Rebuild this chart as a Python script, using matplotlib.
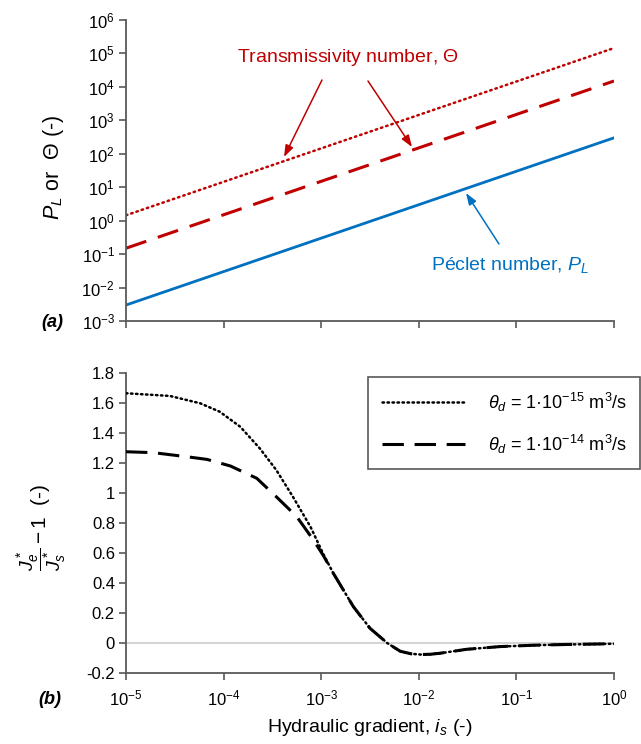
import numpy as np
import matplotlib
matplotlib.use("Agg")
import matplotlib.pyplot as plt
from matplotlib.ticker import FixedLocator, FuncFormatter, NullLocator

plt.rcParams['font.family'] = ['Liberation Sans', 'DejaVu Sans']
plt.rcParams['mathtext.fontset'] = 'custom'
plt.rcParams['mathtext.rm'] = 'Liberation Sans'
plt.rcParams['mathtext.it'] = 'Liberation Sans:italic'
plt.rcParams['mathtext.bf'] = 'Liberation Sans:bold'
plt.rcParams['axes.unicode_minus'] = False

# ---------------- data ----------------
# panel (a): end points of straight lines in log-log space
i_top = [1e-5, 1e0]
peclet = [3e-3, 3e2]
theta_dotted = [1.45e0, 1.45e5]
theta_dashed = [1.5e-1, 1.5e4]

# panel (b) (log10 of hydraulic gradient, value)
logi_15 = [-5.0, -4.55, -4.24, -4.04, -3.83, -3.63, -3.46, -3.29, -3.11, -2.98,
           -2.875, -2.67, -2.50, -2.32, -2.19, -2.08, -1.98, -1.88, -1.78, -1.51,
           -1.17, -0.83, -0.49, 0.0]
val_15 = [1.665, 1.647, 1.598, 1.542, 1.442, 1.298, 1.153, 0.975, 0.775, 0.595,
          0.464, 0.242, 0.098, -0.002, -0.055, -0.072, -0.077, -0.075, -0.068, -0.042,
          -0.024, -0.015, -0.010, -0.005]
logi_14 = [-5.0, -4.72, -4.38, -4.17, -3.93, -3.66, -3.46, -3.25, -3.08, -2.98,
           -2.875, -2.67, -2.50, -2.32, -2.19, -2.08, -1.98, -1.88, -1.78, -1.51,
           -1.17, -0.83, -0.49, 0.0]
val_14 = [1.275, 1.269, 1.242, 1.224, 1.180, 1.098, 0.975, 0.842, 0.687, 0.585,
          0.464, 0.242, 0.098, -0.002, -0.055, -0.072, -0.077, -0.075, -0.068, -0.042,
          -0.024, -0.015, -0.010, -0.005]

xticks = [1e-5, 1e-4, 1e-3, 1e-2, 1e-1, 1e0]
yticks_top = [10.0**k for k in range(-3, 7)]
yticks_bot = [-0.2, 0, 0.2, 0.4, 0.6, 0.8, 1.0, 1.2, 1.4, 1.6, 1.8]

RED = '#C00000'
BLUE = '#0070C0'
SPINE = '#595959'

W, H = 641, 744
fig = plt.figure(figsize=(W / 100, H / 100), dpi=100)

def frac(left, top, right, bottom):
    return [left / W, 1 - bottom / H, (right - left) / W, (bottom - top) / H]

axa = fig.add_axes(frac(126, 20, 614, 321))
axb = fig.add_axes(frac(126, 373, 614, 673))

def pow_fmt(v, pos):
    k = int(round(np.log10(v)))
    return r'$\mathregular{10^{%d}}$' % k

for ax in (axa, axb):
    ax.spines['top'].set_visible(False)
    ax.spines['right'].set_visible(False)
    for s in ('left', 'bottom'):
        ax.spines[s].set_color(SPINE)
        ax.spines[s].set_linewidth(1.3)
    ax.tick_params(axis='both', direction='out', length=5, width=1.2,
                   color=SPINE, labelsize=12, pad=3)
    ax.set_xscale('log')
    ax.set_xlim(1e-5, 1e0)
    ax.xaxis.set_major_locator(FixedLocator(xticks))
    ax.xaxis.set_minor_locator(NullLocator())

# ---------- panel (a) ----------
axa.set_yscale('log')
axa.set_ylim(1e-3, 1e6)
axa.yaxis.set_major_locator(FixedLocator(yticks_top))
axa.yaxis.set_minor_locator(NullLocator())
axa.yaxis.set_major_formatter(FuncFormatter(pow_fmt))
axa.tick_params(axis='x', labelbottom=False)

axa.plot(i_top, theta_dotted, color=RED, lw=1.8, linestyle=(0, (0.6, 1.6)),
         dash_capstyle='round')
axa.plot(i_top, theta_dashed, color=RED, lw=2.2, linestyle=(0, (7, 4)))
axa.plot(i_top, peclet, color=BLUE, lw=2.0)

axa.text(0.4549, 0.8738, r'Transmissivity number, $\mathit{\Theta}$', color=RED,
         fontsize=14, ha='center', va='center', transform=axa.transAxes)
arrow_kw = dict(arrowstyle='-|>,head_length=0.7,head_width=0.25', lw=1.1,
                shrinkA=0, shrinkB=0)
axa.annotate('', xy=(0.3238, 0.5449), xytext=(0.4016, 0.8007),
             xycoords='axes fraction', textcoords='axes fraction',
             arrowprops=dict(color=RED, **arrow_kw))
axa.annotate('', xy=(0.5861, 0.5781), xytext=(0.4959, 0.7973),
             xycoords='axes fraction', textcoords='axes fraction',
             arrowprops=dict(color=RED, **arrow_kw))
axa.text(0.7869, 0.186, r'Péclet number, $\mathit{P_L}$', color=BLUE,
         fontsize=14, ha='center', va='center', transform=axa.transAxes)
axa.annotate('', xy=(0.6967, 0.4252), xytext=(0.7643, 0.2558),
             xycoords='axes fraction', textcoords='axes fraction',
             arrowprops=dict(color=BLUE, **arrow_kw))

fig.text(53 / W, 1 - 167 / H, r'$\mathit{P_L}$ or  $\mathit{\Theta}$ (-)',
         rotation=90, fontsize=15.5, ha='center', va='center')
fig.text(52 / W, 1 - 322 / H, '(a)', fontsize=13, fontweight='bold',
         fontstyle='italic', ha='center', va='center')

# ---------- panel (b) ----------
axb.set_ylim(-0.2, 1.8)
axb.yaxis.set_major_locator(FixedLocator(yticks_bot))
axb.yaxis.set_major_formatter(FuncFormatter(lambda v, p: f'{v:g}'))
axb.xaxis.set_major_formatter(FuncFormatter(pow_fmt))
axb.tick_params(axis='x', pad=6)
axb.axhline(0, color='#D0D0D0', lw=1.3, zorder=1)

x15 = [10.0 ** v for v in logi_15]
x14 = [10.0 ** v for v in logi_14]
l1, = axb.plot(x15, val_15, color='black', lw=1.8, linestyle=(0, (0.6, 1.4)),
               dash_capstyle='round', zorder=3,
               label=r'$\mathit{\theta_d}$ = 1·10$^{\mathregular{-15}}$ m$^{\mathregular{3}}$/s')
l2, = axb.plot(x14, val_14, color='black', lw=2.2, linestyle=(0, (7, 3.5)), zorder=3,
               label=r'$\mathit{\theta_d}$ = 1·10$^{\mathregular{-14}}$ m$^{\mathregular{3}}$/s')

leg = axb.legend(handles=[l1, l2], loc='upper right',
                 bbox_to_anchor=(640 / W, 1 - 377 / H), bbox_transform=fig.transFigure,
                 borderaxespad=0, fancybox=False, framealpha=1, edgecolor=SPINE,
                 fontsize=13, handlelength=4.6, handletextpad=1.25,
                 labelspacing=1.05, borderpad=0.75)
leg.get_frame().set_linewidth(1.2)

fig.text(42 / W, 1 - 559 / H, r'$\dfrac{\mathit{J}_e^*}{\mathit{J}_s^*}$',
         rotation=90, fontsize=14, ha='center', va='center')
fig.text(41 / W, 1 - 514 / H, r'$-\,1$  (-)',
         rotation=90, fontsize=15, ha='center', va='center')
fig.text(50 / W, 1 - 700 / H, '(b)', fontsize=13, fontweight='bold',
         fontstyle='italic', ha='center', va='center')
fig.text(370 / W, 1 - 728 / H, r'Hydraulic gradient, $\mathit{i_s}$ (-)',
         fontsize=14, ha='center', va='center')

fig.savefig('out.png', dpi=100)
